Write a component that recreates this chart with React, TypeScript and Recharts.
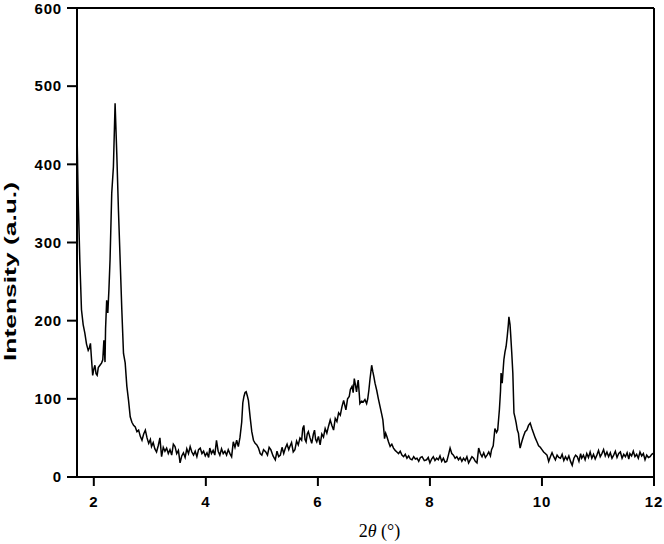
import React from "react";
import { LineChart, Line, XAxis, YAxis, ReferenceLine, Label } from "recharts";

const twoTheta: number[] = [
  1.70, 1.72, 1.75, 1.78, 1.81, 1.84, 1.87, 1.90, 1.92, 1.94, 1.96, 1.98, 2.00, 2.02, 2.04, 2.06, 2.08, 2.11, 2.14, 2.16,
  2.18, 2.20, 2.21, 2.23, 2.25, 2.27, 2.29, 2.32, 2.35, 2.38, 2.41, 2.44, 2.47, 2.50, 2.53, 2.56, 2.59, 2.62, 2.65, 2.68,
  2.71, 2.74, 2.77, 2.80, 2.83, 2.86, 2.89, 2.92, 2.95, 2.98, 3.01, 3.03, 3.06, 3.09, 3.12, 3.15, 3.18, 3.21, 3.24, 3.27,
  3.30, 3.33, 3.36, 3.39, 3.42, 3.45, 3.48, 3.51, 3.54, 3.57, 3.60, 3.63, 3.66, 3.69, 3.72, 3.75, 3.78, 3.81, 3.84, 3.87,
  3.90, 3.93, 3.96, 3.99, 4.02, 4.05, 4.07, 4.10, 4.13, 4.16, 4.19, 4.22, 4.25, 4.28, 4.31, 4.34, 4.37, 4.40, 4.43, 4.46,
  4.49, 4.52, 4.55, 4.58, 4.61, 4.64, 4.66, 4.68, 4.70, 4.72, 4.74, 4.76, 4.79, 4.82, 4.85, 4.88, 4.91, 4.94, 4.97, 5.00,
  5.03, 5.07, 5.10, 5.13, 5.16, 5.20, 5.24, 5.27, 5.30, 5.33, 5.36, 5.39, 5.42, 5.45, 5.48, 5.50, 5.53, 5.56, 5.59, 5.62,
  5.65, 5.68, 5.71, 5.73, 5.75, 5.77, 5.79, 5.81, 5.83, 5.86, 5.89, 5.92, 5.94, 5.96, 5.98, 6.01, 6.04, 6.07, 6.10, 6.13,
  6.16, 6.19, 6.22, 6.25, 6.28, 6.31, 6.34, 6.37, 6.40, 6.43, 6.46, 6.48, 6.50, 6.53, 6.56, 6.58, 6.61, 6.63, 6.65, 6.67,
  6.69, 6.71, 6.72, 6.74, 6.75, 6.78, 6.81, 6.84, 6.87, 6.89, 6.91, 6.93, 6.96, 6.98, 7.00, 7.02, 7.05, 7.08, 7.11, 7.14,
  7.16, 7.18, 7.19, 7.21, 7.23, 7.26, 7.29, 7.32, 7.35, 7.38, 7.41, 7.44, 7.47, 7.50, 7.53, 7.56, 7.59, 7.62, 7.65, 7.68,
  7.71, 7.74, 7.77, 7.80, 7.83, 7.86, 7.90, 7.94, 7.97, 8.00, 8.03, 8.06, 8.09, 8.12, 8.15, 8.18, 8.21, 8.24, 8.27, 8.30,
  8.33, 8.36, 8.39, 8.42, 8.45, 8.48, 8.51, 8.54, 8.57, 8.60, 8.63, 8.66, 8.69, 8.72, 8.75, 8.78, 8.81, 8.84, 8.87, 8.90,
  8.93, 8.96, 8.99, 9.02, 9.05, 9.08, 9.10, 9.13, 9.16, 9.19, 9.21, 9.24, 9.26, 9.27, 9.29, 9.31, 9.32, 9.34, 9.36, 9.38,
  9.40, 9.41, 9.43, 9.44, 9.46, 9.48, 9.50, 9.52, 9.54, 9.56, 9.58, 9.60, 9.61, 9.64, 9.67, 9.70, 9.73, 9.76, 9.79, 9.82,
  9.85, 9.88, 9.91, 9.94, 9.97, 10.00, 10.03, 10.06, 10.09, 10.12, 10.15, 10.18, 10.21, 10.24, 10.27, 10.30, 10.33, 10.36, 10.39, 10.42,
  10.45, 10.48, 10.51, 10.54, 10.57, 10.60, 10.63, 10.66, 10.69, 10.71, 10.74, 10.77, 10.80, 10.83, 10.86, 10.89, 10.92, 10.95, 10.98, 11.01,
  11.04, 11.07, 11.10, 11.13, 11.16, 11.19, 11.22, 11.25, 11.28, 11.31, 11.34, 11.37, 11.40, 11.43, 11.46, 11.49, 11.52, 11.55, 11.57, 11.60,
  11.63, 11.66, 11.69, 11.72, 11.75, 11.78, 11.81, 11.84, 11.87, 11.90, 11.93, 11.96, 12.00,
];

const intensity: number[] = [
  444, 360, 278, 214, 195, 184, 170, 162, 165, 171, 150, 130, 138, 143, 132, 130, 140, 143, 146, 150,
  175, 147, 190, 226, 210, 240, 278, 363, 397, 478, 414, 341, 278, 214, 158, 146, 116, 98, 77, 70,
  66, 64, 58, 60, 52, 47, 55, 60, 50, 43, 48, 39, 44, 36, 32, 40, 50, 26, 38, 33,
  37, 30, 35, 28, 42, 39, 30, 34, 18, 27, 31, 25, 36, 30, 39, 32, 28, 33, 26, 35,
  37, 30, 33, 27, 31, 25, 37, 30, 34, 28, 47, 33, 28, 36, 30, 33, 28, 35, 30, 26,
  45, 38, 47, 39, 51, 70, 95, 103, 108, 109, 104, 98, 77, 58, 47, 43, 41, 37, 30, 28,
  35, 32, 28, 38, 35, 27, 22, 33, 26, 28, 38, 30, 37, 42, 35, 39, 44, 32, 35, 46,
  41, 50, 47, 62, 66, 48, 45, 55, 58, 50, 43, 55, 60, 48, 45, 52, 41, 55, 51, 62,
  56, 65, 73, 66, 60, 75, 71, 82, 79, 90, 98, 92, 86, 100, 103, 112, 116, 108, 126, 118,
  109, 120, 124, 105, 94, 97, 96, 99, 94, 100, 111, 125, 143, 135, 128, 120, 111, 100, 90, 80,
  73, 58, 49, 56, 52, 45, 39, 42, 37, 34, 32, 30, 33, 28, 26, 29, 24, 27, 23, 22,
  26, 23, 24, 20, 25, 26, 21, 22, 25, 18, 23, 26, 21, 24, 22, 27, 20, 24, 19, 20,
  28, 37, 30, 28, 24, 26, 22, 25, 20, 24, 21, 26, 18, 22, 26, 24, 20, 18, 37, 30,
  26, 31, 25, 28, 32, 27, 35, 40, 62, 57, 60, 86, 110, 133, 120, 140, 150, 160, 167, 180,
  195, 205, 195, 184, 160, 133, 82, 76, 69, 60, 56, 42, 37, 45, 52, 58, 60, 66, 69, 62,
  56, 50, 45, 40, 38, 35, 32, 30, 28, 20, 26, 31, 26, 22, 28, 25, 24, 29, 21, 26,
  22, 27, 20, 15, 24, 28, 26, 20, 30, 24, 28, 22, 30, 25, 32, 24, 29, 23, 28, 34,
  26, 30, 35, 27, 32, 26, 31, 24, 28, 33, 25, 30, 32, 24, 29, 26, 31, 23, 30, 27,
  33, 26, 29, 24, 32, 27, 30, 22, 28, 25, 26, 29, 31,
];

const xTicks: number[] = [2, 4, 6, 8, 10, 12];
const yTicks: number[] = [0, 100, 200, 300, 400, 500, 600];
const xLabelMain = "2";
const xLabelTheta = "θ";
const xLabelUnit = " (°)";
const yLabelText = "Intensity (a.u.)";

const data = twoTheta.map((x, i) => ({ x, y: intensity[i] }));

const tickFont = {
  fontFamily: "'Liberation Sans', Arial, Helvetica, sans-serif",
  fontWeight: 700,
  fontSize: 15,
  fill: "#000",
  letterSpacing: 0.8,
};

const axisStroke = { stroke: "#000", strokeWidth: 2 };

const YLabel = (props: any) => {
  const vb = props.viewBox || { x: 0, y: 8, width: 77, height: 469 };
  const cx = vb.x + 16;
  const cy = vb.y + vb.height / 2 + 29;
  return (
    <text
      x={cx}
      y={cy}
      transform={`rotate(-90, ${cx}, ${cy})`}
      textAnchor="middle"
      fontFamily="'Liberation Sans', Arial, Helvetica, sans-serif"
      fontWeight={700}
      fontSize={16}
      textLength={179}
      lengthAdjust="spacingAndGlyphs"
      fill="#000"
    >
      {yLabelText}
    </text>
  );
};

const XLabel = (props: any) => {
  const vb = props.viewBox || { x: 77, y: 477, width: 577, height: 67 };
  const cx = vb.x + vb.width / 2 + 14;
  const cy = vb.y + 60;
  return (
    <text
      x={cx}
      y={cy}
      textAnchor="middle"
      fontFamily="'Liberation Serif', 'Times New Roman', serif"
      fontSize={18}
      fill="#000"
    >
      <tspan>{xLabelMain}</tspan>
      <tspan fontStyle="italic">{xLabelTheta}</tspan>
      <tspan>{xLabelUnit}</tspan>
    </text>
  );
};

export default function App() {
  return (
    <div style={{ position: "absolute", left: 0, top: 0, width: 664, height: 544, background: "#fff" }}>
      <LineChart
        width={664}
        height={544}
        data={data}
        margin={{ top: 8, right: 10, bottom: 0, left: 0 }}
      >
        <XAxis
          dataKey="x"
          type="number"
          domain={[1.7, 12]}
          ticks={xTicks}
          allowDataOverflow
          height={67}
          tickSize={9}
          tickMargin={10}
          axisLine={axisStroke}
          tickLine={axisStroke}
          tick={tickFont}
        >
          <Label content={<XLabel />} />
        </XAxis>
        <YAxis
          type="number"
          domain={[0, 600]}
          ticks={yTicks}
          allowDataOverflow
          width={77}
          tickSize={10}
          tickMargin={5}
          axisLine={axisStroke}
          tickLine={axisStroke}
          tick={tickFont}
        >
          <Label content={<YLabel />} />
        </YAxis>
        <ReferenceLine y={600} stroke="#000" strokeWidth={2} />
        <ReferenceLine x={12} stroke="#000" strokeWidth={2} />
        <Line
          type="linear"
          dataKey="y"
          stroke="#000"
          strokeWidth={1.5}
          dot={false}
          activeDot={false}
          isAnimationActive={false}
        />
      </LineChart>
    </div>
  );
}
